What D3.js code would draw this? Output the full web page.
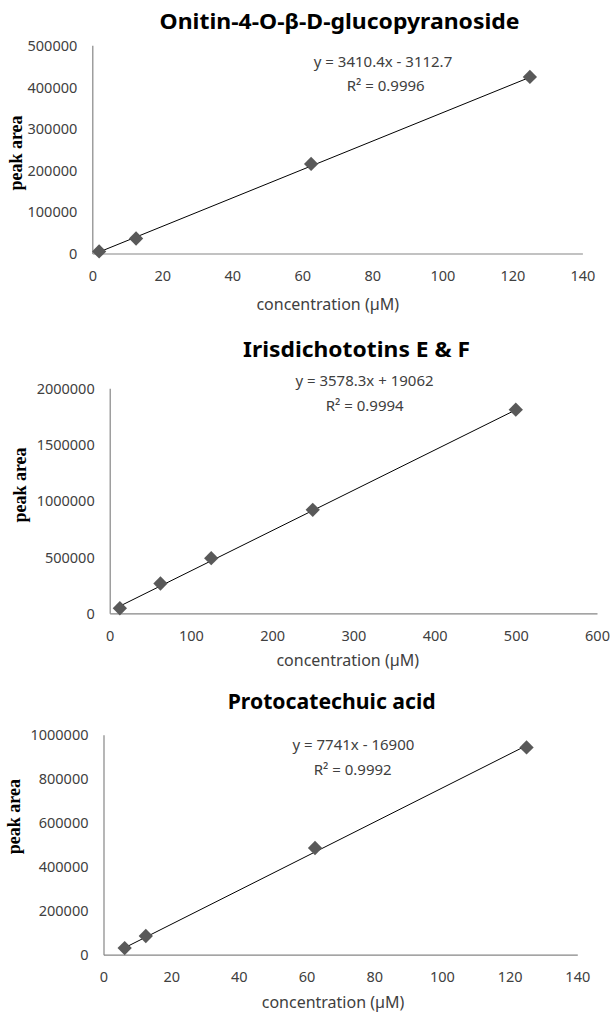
<!DOCTYPE html>
<html><head><meta charset="utf-8">
<script src="https://cdn.jsdelivr.net/npm/d3@7"></script>
<style>
html,body{margin:0;padding:0;background:#fff;}
svg{display:block;}
</style></head>
<body>
<svg id="c" width="610" height="1012"></svg>
<script>
// ---- data ----
const titles = ["Onitin-4-O-β-D-glucopyranoside", "Irisdichototins E & F", "Protocatechuic acid"];
const conc1 = [1.95, 12.5, 62.5, 125];
const area1 = [5000, 36000, 215000, 424000];
const conc2 = [12.5, 62.5, 125, 250, 500];
const area2 = [45000, 265000, 490000, 920000, 1810000];
const conc3 = [6.25, 12.5, 62.5, 125];
const area3 = [30000, 85000, 485000, 942000];
const slopes = [3410.4, 3578.3, 7741];
const intercepts = [-3112.7, 19062, -16900];
const equations = ["y = 3410.4x - 3112.7", "y = 3578.3x + 19062", "y = 7741x - 16900"];
const r2Labels = ["R² = 0.9996", "R² = 0.9994", "R² = 0.9992"];
const xMax = [140, 600, 140];
const xStep = [20, 100, 20];
const yMax = [500000, 2000000, 1000000];
const yStep = [100000, 500000, 200000];
const xTitle = "concentration (µM)";
const yTitle = "peak area";

// ---- layout (pixels) ----
const layouts = [
  {x0:92.3, x1:582.4, yb:253.5, yt:45.3, titleX:339.5, titleY:28.5, titleW:360,
   eqX:383, eqY:62, r2X:385.7, r2Y:86, xtX:327.7, xtY:304, ytX:15.6, ytY:153},
  {x0:109.7, x1:597, yb:613.3, yt:388.3, titleX:356.6, titleY:356.7, titleW:227,
   eqX:364.5, eqY:381, r2X:364.7, r2Y:406, xtX:347.7, xtY:660, ytX:19.5, ytY:485},
  {x0:103.5, x1:577.3, yb:954.7, yt:734.7, titleX:331.7, titleY:709.3, titleW:208,
   eqX:353.4, eqY:745, r2X:352.7, r2Y:769.3, xtX:333, xtY:1002.7, ytX:13.6, ytY:816.7}
];
const concs = [conc1, conc2, conc3];
const areas = [area1, area2, area3];

const svg = d3.select("#c");
const sans = "'Noto Sans', 'Open Sans', sans-serif";
const textCol = "#404040";

layouts.forEach((L, i) => {
  const g = svg.append("g");
  const x = d3.scaleLinear().domain([0, xMax[i]]).range([L.x0, L.x1]);
  const y = d3.scaleLinear().domain([0, yMax[i]]).range([L.yb, L.yt]);

  // title
  g.append("text").text(titles[i])
    .attr("x", L.titleX).attr("y", L.titleY)
    .attr("text-anchor", "middle")
    .attr("font-family", sans).attr("font-weight", "bold")
    .attr("font-size", 21).attr("fill", "#000")
    .attr("textLength", L.titleW).attr("lengthAdjust", "spacingAndGlyphs");

  // x axis
  const xTicks = d3.range(0, xMax[i] + 0.001, xStep[i]);
  const xa = g.append("g").attr("transform", `translate(0,${L.yb})`)
    .call(d3.axisBottom(x).tickValues(xTicks).tickSize(0).tickPadding(0).tickFormat(d3.format("d")));
  xa.select(".domain").attr("stroke", "#868686").attr("stroke-width", 1.2);
  xa.selectAll("text").attr("font-family", sans).attr("font-size", 14.5)
    .attr("fill", textCol).attr("dy", null).attr("y", 0)
    .attr("transform", "translate(0,23.5)").attr("dominant-baseline", "middle");

  // y axis
  const yTicks = d3.range(0, yMax[i] + 1, yStep[i]);
  const ya = g.append("g").attr("transform", `translate(${L.x0},0)`)
    .call(d3.axisLeft(y).tickValues(yTicks).tickSize(0).tickPadding(0).tickFormat(d3.format("d")));
  ya.select(".domain").attr("stroke", "#868686").attr("stroke-width", 1.2);
  ya.selectAll("text").attr("font-family", sans).attr("font-size", 14.5)
    .attr("fill", textCol).attr("x", -15).attr("dy", "0.35em");

  // trendline
  const xs = concs[i];
  const xmin = d3.min(xs), xmaxD = d3.max(xs);
  const f = v => slopes[i] * v + intercepts[i];
  g.append("line")
    .attr("x1", x(xmin)).attr("y1", y(f(xmin)))
    .attr("x2", x(xmaxD)).attr("y2", y(f(xmaxD)))
    .attr("stroke", "#000").attr("stroke-width", 1);

  // markers
  const diamond = d3.symbol().type(d3.symbolDiamond2).size(130);
  g.selectAll("path.pt").data(xs.map((c, k) => [c, areas[i][k]])).join("path")
    .attr("class", "pt")
    .attr("d", diamond)
    .attr("transform", d => `translate(${x(d[0])},${y(d[1])})`)
    .attr("fill", "#595959");

  // equation texts
  g.append("text").text(equations[i])
    .attr("x", L.eqX).attr("y", L.eqY).attr("dy", "0.35em")
    .attr("text-anchor", "middle").attr("font-family", sans)
    .attr("font-size", 15).attr("fill", textCol);
  g.append("text").text(r2Labels[i])
    .attr("x", L.r2X).attr("y", L.r2Y).attr("dy", "0.35em")
    .attr("text-anchor", "middle").attr("font-family", sans)
    .attr("font-size", 15).attr("fill", textCol);

  // axis titles
  g.append("text").text(xTitle)
    .attr("x", L.xtX).attr("y", L.xtY).attr("dy", "0.35em")
    .attr("text-anchor", "middle").attr("font-family", sans)
    .attr("font-size", 16).attr("fill", textCol);
  g.append("text").text(yTitle)
    .attr("transform", `translate(${L.ytX},${L.ytY}) rotate(-90)`)
    .attr("dy", "0.35em")
    .attr("text-anchor", "middle").attr("font-family", "'Liberation Serif', 'Times New Roman', serif")
    .attr("font-weight", "bold").attr("font-size", 18).attr("fill", "#000");
});
</script>
</body></html>
